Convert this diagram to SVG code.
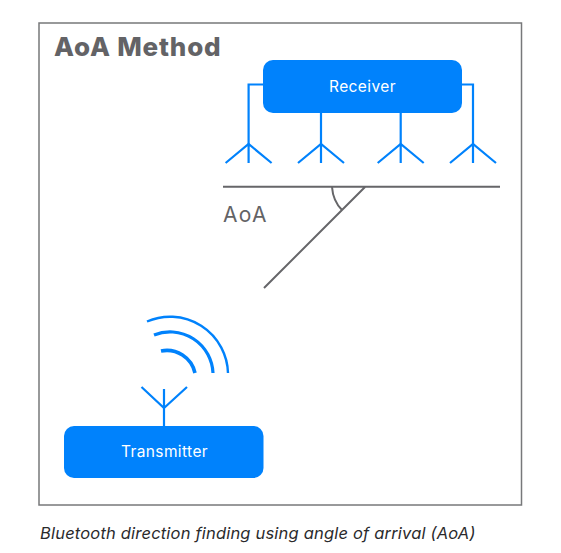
<svg xmlns="http://www.w3.org/2000/svg" width="561" height="553" viewBox="0 0 561 553">
<style>
.node{fill:#0082fc}
.blue{fill:none;stroke:#0082fc;stroke-width:2.2}
.wave{fill:none;stroke:#0082fc}
.grey{fill:none;stroke:#666669;stroke-width:2}
text{font-family:"Inter","Liberation Sans",sans-serif}
.lab{fill:#fff;font-size:15.5px;text-anchor:middle;letter-spacing:.4px}
</style>
<defs>
<g id="ant"><path class="blue" d="M0 0V19M-23 19L0 0L23 19"/></g>
</defs>
<rect width="561" height="553" fill="#fff"/>
<g id="frame"><rect x="39" y="23" width="482.500" height="482" fill="#fff" stroke="#77787a" stroke-width="1.500"/></g>
<text id="title" x="54" y="56" font-size="26" font-weight="800" letter-spacing=".8" fill="#636366">AoA Method</text>
<g id="connectors">
<path class="blue" d="M263 84.500H248.600V144M462 84.500H473V144M321 113V144M400.700 113V144"/>
<use href="#ant" x="248.600" y="144"/>
<use href="#ant" x="321" y="144"/>
<use href="#ant" x="400.700" y="144"/>
<use href="#ant" x="473" y="144"/>
<path class="blue" d="M164 426V389M141.500 387L164 408L187 387"/>
<path class="wave" stroke-width="2.400" d="M147 321.500A58 58 0 0 1 228 373"/>
<path class="wave" stroke-width="3.200" d="M154 335A43 43 0 0 1 213 373"/>
<path class="wave" stroke-width="3.600" d="M161 351A29 29 0 0 1 195 373"/>
<path class="grey" d="M223 186.700H500M365 187L264 288M332 187Q333 201 342 210"/>
</g>
<g id="receiver"><rect class="node" x="263" y="60" width="199" height="53" rx="10"/><text class="lab" x="362.500" y="92">Receiver</text></g>
<g id="transmitter"><rect class="node" x="64" y="426" width="199.500" height="52" rx="10"/><text class="lab" x="164.500" y="457">Transmitter</text></g>
<text id="aoa" x="223" y="222" font-size="21" letter-spacing="1.300" fill="#636366">AoA</text>
<text id="caption" x="40" y="539" font-size="16.500" font-style="italic" letter-spacing=".19" fill="#2a2a2c">Bluetooth direction finding using angle of arrival (AoA)</text>
</svg>
